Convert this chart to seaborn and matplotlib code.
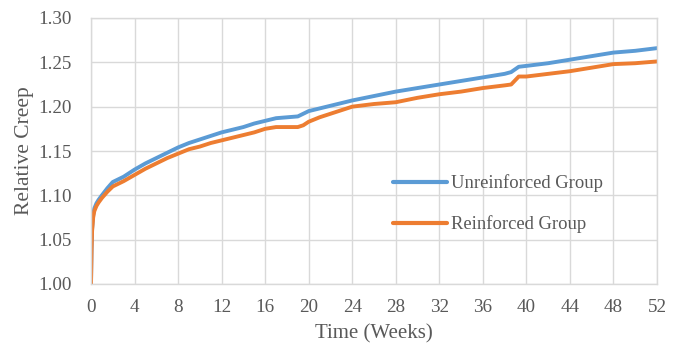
import matplotlib
matplotlib.use("Agg")
import matplotlib.pyplot as plt
import seaborn as sns
import pandas as pd

weeks = [0, 0.05, 0.1, 0.2, 0.3, 0.5, 0.7, 1, 1.5, 2, 3, 4, 5, 6, 7, 8, 9, 10, 11, 12, 13, 14, 15,
         16, 17, 18, 19, 19.5, 20, 21, 22, 23, 24, 26, 28, 30, 32, 34, 36, 38, 38.6, 39.3, 40,
         42, 44, 46, 48, 50, 52]
unreinforced = [1.000, 1.040, 1.062, 1.078, 1.085, 1.091, 1.095, 1.100, 1.108, 1.115, 1.121, 1.129,
                1.136, 1.142, 1.148, 1.154, 1.159, 1.163, 1.167, 1.171, 1.174, 1.177, 1.181,
                1.184, 1.187, 1.188, 1.189, 1.192, 1.195, 1.198, 1.201, 1.204, 1.207, 1.212,
                1.217, 1.221, 1.225, 1.229, 1.233, 1.237, 1.239, 1.245, 1.246, 1.249, 1.253,
                1.257, 1.261, 1.263, 1.266]
reinforced = [1.000, 1.038, 1.060, 1.075, 1.082, 1.088, 1.092, 1.097, 1.104, 1.110, 1.116, 1.123,
              1.130, 1.136, 1.142, 1.147, 1.152, 1.155, 1.159, 1.162, 1.165, 1.168, 1.171,
              1.175, 1.177, 1.177, 1.177, 1.179, 1.183, 1.188, 1.192, 1.196, 1.200, 1.203,
              1.205, 1.210, 1.214, 1.217, 1.221, 1.224, 1.225, 1.234, 1.234, 1.237, 1.240,
              1.244, 1.248, 1.249, 1.251]
series_names = ["Unreinforced Group", "Reinforced Group"]
x_ticks = list(range(0, 53, 4))
y_ticks = [1.00, 1.05, 1.10, 1.15, 1.20, 1.25, 1.30]

df = pd.concat([
    pd.DataFrame({"Time": weeks, "Creep": unreinforced, "Group": series_names[0]}),
    pd.DataFrame({"Time": weeks, "Creep": reinforced, "Group": series_names[1]}),
])

sns.set_theme(style="white")
plt.rcParams["font.family"] = ["Liberation Serif", "DejaVu Serif"]

fig = plt.figure(figsize=(6.82, 3.47), dpi=100)
ax = fig.add_axes([91/682, 1-284/347, (657-91)/682, (284-18)/347])

sns.lineplot(data=df, x="Time", y="Creep", hue="Group", sort=False, estimator=None,
             palette={series_names[0]: "#5B9BD5", series_names[1]: "#ED7D31"},
             linewidth=2.8, ax=ax)

ax.set_xlim(0, 52)
ax.set_ylim(1.00, 1.30)
ax.set_xticks(x_ticks)
ax.set_yticks(y_ticks)
ax.set_yticklabels([f"{v:.2f}" for v in y_ticks])
ax.grid(True, color="#d9d9d9", linewidth=1.0)
ax.set_axisbelow(True)
for s in ax.spines.values():
    s.set_color("#d9d9d9")
    s.set_linewidth(1.0)
ax.tick_params(axis="both", length=0, labelsize=13.8, colors="#595959")
ax.tick_params(axis="x", pad=11)
ax.tick_params(axis="y", pad=14)
ax.set_xlabel("Time (Weeks)", fontsize=15, color="#595959", labelpad=6)
ax.set_ylabel("Relative Creep", fontsize=15.5, color="#595959", labelpad=3)

leg = ax.legend(loc="center left", bbox_to_anchor=(0.518, 0.302), frameon=False,
                fontsize=13.4, borderpad=0, handlelength=2.9, handletextpad=0.2,
                labelspacing=1.25)
for t in leg.get_texts():
    t.set_color("#595959")
for l in leg.get_lines():
    l.set_linewidth(3)

fig.savefig("out.png", dpi=100)
